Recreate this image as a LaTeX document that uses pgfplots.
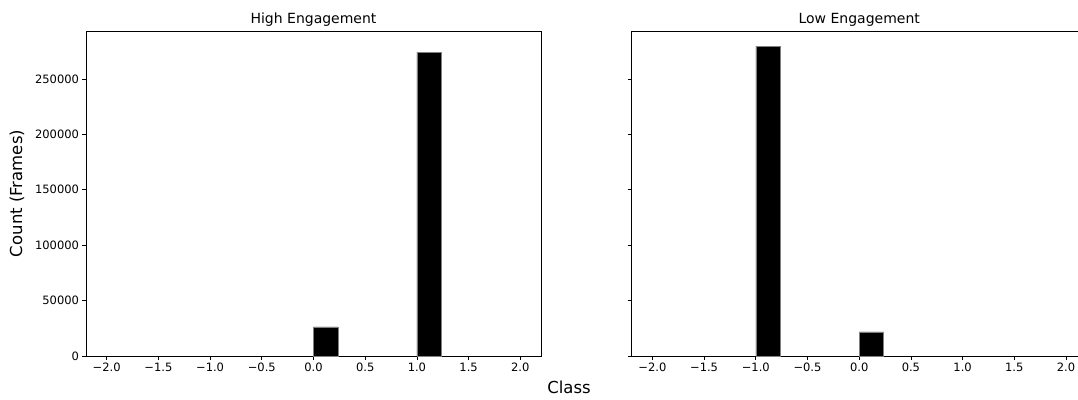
\documentclass[border=0pt]{standalone}
\usepackage{fontspec}
\setmainfont{DejaVu Sans}
\usepackage{pgfplots}
\pgfplotsset{compat=1.18}
\begin{document}
\begin{tikzpicture}
\pgfplotsset{
  hist/.style={
    scale only axis, width=455pt, height=325pt, anchor=south west,
    xmin=-2.2, xmax=2.2, ymin=0, ymax=293300,
    axis line style={black, line width=0.8pt},
    tick align=outside, xtick pos=bottom, ytick pos=left,
    major tick length=3.5pt,
    tick style={black, line width=0.8pt},
    xtick={-2,-1.5,-1,-0.5,0,0.5,1,1.5,2},
    xticklabels={−2.0,−1.5,−1.0,−0.5,0.0,0.5,1.0,1.5,2.0},
    ytick={0,50000,100000,150000,200000,250000},
    scaled y ticks=false,
    yticklabel style={/pgf/number format/.cd, fixed, 1000 sep={}, assume math mode=true},
    tick label style={font=\fontsize{11.5}{13}\selectfont},
    title style={at={(0.5,1)}, anchor=base, yshift=1pt, font=\fontsize{14}{16}\selectfont},
  }
}
\begin{axis}[hist, at={(86pt,43pt)}, title={High Engagement}]
\addplot[ybar, bar width=0.235, bar shift=0.1175, fill=black, draw=gray, line width=0.5pt]
  coordinates {(0,26200) (1,274100)};
\end{axis}
\begin{axis}[hist, at={(631.7pt,43pt)}, title={Low Engagement}, yticklabels={}]
\addplot[ybar, bar width=0.235, bar shift=0.1175, fill=black, draw=gray, line width=0.5pt]
  coordinates {(-1,279600) (0,21700)};
\end{axis}
\node[rotate=90, font=\fontsize{16.5}{18}\selectfont] at (17pt,205.5pt) {Count (Frames)};
\node[font=\fontsize{16.5}{18}\selectfont] at (569pt,12pt) {Class};
\pgfresetboundingbox
\useasboundingbox (0pt,0pt) rectangle (1078pt,399pt);
\end{tikzpicture}
\end{document}
